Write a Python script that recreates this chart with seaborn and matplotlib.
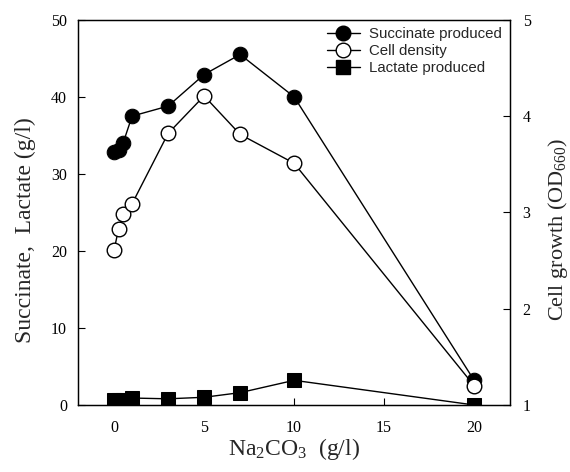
import matplotlib
matplotlib.use("Agg")
import matplotlib.pyplot as plt
import seaborn as sns
import pandas as pd
from matplotlib.lines import Line2D

# Data
na2co3 = [0, 0.25, 0.5, 1, 3, 5, 7, 10, 20]
succinate = [32.8, 33.1, 34.0, 37.5, 38.8, 42.9, 45.5, 40.0, 3.2]
lactate = [0.7, 0.6, 0.7, 0.9, 0.8, 1.0, 1.6, 3.2, 0.0]
cell_od = [2.61, 2.83, 2.98, 3.09, 3.82, 4.21, 3.81, 3.51, 1.20]

df = pd.DataFrame({"x": na2co3, "succ": succinate, "lac": lactate, "od": cell_od})

sns.set_style("ticks")
plt.rcParams["font.family"] = ["Liberation Serif", "DejaVu Serif"]
plt.rcParams["mathtext.fontset"] = "custom"
plt.rcParams["mathtext.rm"] = "Liberation Serif"
plt.rcParams["mathtext.it"] = "Liberation Serif"

fig = plt.figure(figsize=(5.7, 4.72), dpi=100)
ax = fig.add_axes([0.137, 0.142, 0.758, 0.816])
ax2 = ax.twinx()

lw = 1.0
ms_c = 10.5
ms_s = 9.5
sns.lineplot(data=df, x="x", y="succ", ax=ax, color="black", lw=lw, marker="o",
             markersize=ms_c, markerfacecolor="black", markeredgecolor="black", zorder=3)
sns.lineplot(data=df, x="x", y="lac", ax=ax, color="black", lw=lw, marker="s",
             markersize=ms_s, markerfacecolor="black", markeredgecolor="black", zorder=3)
sns.lineplot(data=df, x="x", y="od", ax=ax2, color="black", lw=lw, marker="o",
             markersize=ms_c, markerfacecolor="white", markeredgecolor="black",
             markeredgewidth=1.0, zorder=3)

ax.set_xlim(-2, 22)
ax.set_ylim(0, 50)
ax2.set_ylim(1, 5)
ax.set_xticks([0, 5, 10, 15, 20])
ax.set_yticks([0, 10, 20, 30, 40, 50])
ax2.set_yticks([1, 2, 3, 4, 5])

for a in (ax, ax2):
    a.tick_params(direction="in", length=5, width=0.8, labelsize=11.5, colors="black")
    for s in a.spines.values():
        s.set_linewidth(0.9)
        s.set_color("black")
ax.tick_params(axis="x", pad=11)
ax.tick_params(axis="y", pad=8)
ax2.tick_params(axis="y", pad=9)

ax.set_xlabel(r"Na$_2$CO$_3$  (g/l)", fontsize=17)
ax.set_ylabel("Succinate,  Lactate (g/l)", fontsize=17)
ax2.set_ylabel(r"Cell growth (OD$_{660}$)", fontsize=16)
ax.xaxis.set_label_coords(0.5, -0.08)
ax.yaxis.set_label_coords(-0.097, 0.455)
ax2.yaxis.set_label_coords(1.082, 0.455)

handles = [
    Line2D([], [], color="black", lw=lw, marker="o", markersize=ms_c, markerfacecolor="black"),
    Line2D([], [], color="black", lw=lw, marker="o", markersize=ms_c, markerfacecolor="white"),
    Line2D([], [], color="black", lw=lw, marker="s", markersize=ms_s, markerfacecolor="black"),
]
labels = ["Succinate produced", "Cell density", "Lactate produced"]
leg = ax2.legend(handles, labels, loc="upper right", bbox_to_anchor=(1.012, 1.016),
                 frameon=False, prop={"family": "Liberation Sans", "size": 10.8},
                 handlelength=2.2, handletextpad=0.6, labelspacing=0.2)

fig.savefig("out.png", dpi=100)
